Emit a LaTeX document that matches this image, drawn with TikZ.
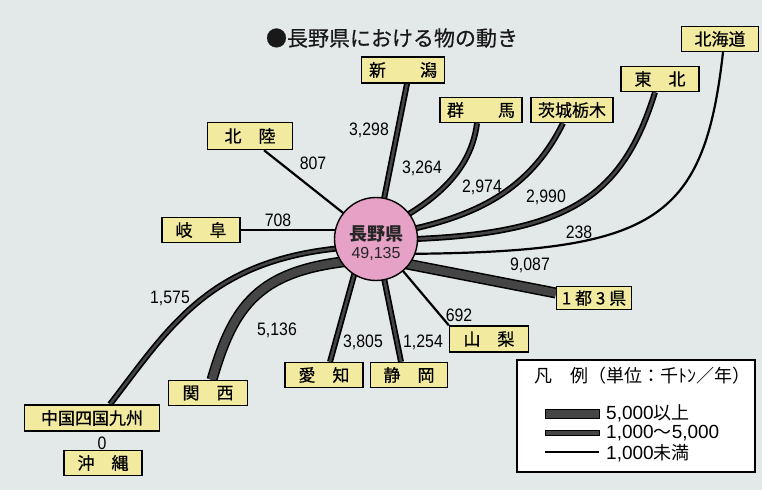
\documentclass[tikz,border=0pt]{standalone}
\usepackage{fontspec}
\usetikzlibrary{calc}
\newfontfamily\jp{Noto Sans CJK JP}
\newfontfamily\jpm[FakeBold=0.6]{Noto Sans CJK JP}
\newfontfamily\numf[FakeStretch=0.88]{Liberation Sans}
\newfontfamily\numw{Liberation Sans}
\definecolor{bgc}{HTML}{E3E8E9}
\definecolor{boxy}{HTML}{F2EA9F}
\definecolor{pinkc}{HTML}{E6A1C6}
\definecolor{bandc}{HTML}{454545}
\pgfdeclarelayer{back}
\pgfdeclarelayer{lines}
\pgfsetlayers{back,lines,main}
\begin{document}
\begin{tikzpicture}[x=1pt,y=-1pt,
  region/.style={draw=black, line width=1.4pt, fill=boxy, inner sep=0pt,
    minimum width=78pt, minimum height=25pt, font=\jpm\fontsize{17}{17}\selectfont},
  val/.style={inner sep=0pt, font=\numf\fontsize{18}{18}\selectfont},
  flowthin/.style={line width=2.2pt, draw=black},
  flowmed/.style={line width=6pt, draw=black, postaction={draw=bandc, line width=2.6pt}},
  flowthick/.style={line width=11pt, draw=black, postaction={draw=bandc, line width=8pt}},
  legtext/.style={anchor=west, inner sep=0pt, font=\jp\fontsize{18}{18}\selectfont}
]
\begin{pgfonlayer}{back}
  \fill[bgc] (0,0) rectangle (762,490);
\end{pgfonlayer}
\useasboundingbox (0,0) rectangle (762,490);

% title
\node[inner sep=0pt, font=\jpm\fontsize{21}{21}\selectfont, text=black!90] (title) at (392,38) {●長野県における物の動き};

% centre
\node[circle, draw=black, line width=1.4pt, fill=pinkc, minimum size=83pt, inner sep=0pt] (nagano) at (376,239) {};
\node[inner sep=0pt, font=\jp\bfseries\fontsize{18}{18}\selectfont, text=black!85] (nname) at (376,234) {長野県};
\node[inner sep=0pt, font=\numw\fontsize{16}{16}\selectfont, text=black!85] (nval) at (376,254) {49,135};

% regions
\node[region, minimum width=83pt, minimum height=26pt] (niigata) at (403,70) {新　　潟};
\node[region, minimum width=77pt] (hokkaido) at (720,39) {北海道};
\node[region] (tohoku) at (660,79) {東　北};
\node[region, minimum width=82pt] (gunma) at (481,110) {群　　馬};
\node[region, minimum width=82pt] (ibaraki) at (572,110) {茨城栃木};
\node[region, minimum width=85pt, minimum height=27pt] (hokuriku) at (250,136) {北　陸};
\node[region] (gifu) at (201,230) {岐　阜};
\node[region, minimum width=75pt, minimum height=23pt] (ittosan) at (594,298) {1 都 3 県};
\node[region, minimum width=79pt, minimum height=26pt] (yamanashi) at (489,339) {山　梨};
\node[region] (aichi) at (324,375) {愛　知};
\node[region, minimum width=77pt] (shizuoka) at (409,375) {静　岡};
\node[region, minimum width=79pt] (kansai) at (208,393) {関　西};
\node[region, minimum width=135pt, minimum height=26pt] (chugoku) at (92,418) {中国四国九州};
\node[region] (okinawa) at (103,463) {沖　縄};

% connectors
\begin{pgfonlayer}{lines}
  \draw[flowthin] ([xshift=14pt]hokuriku.south) -- (nagano.center);
  \draw[flowthin] (gifu.east) -- (gifu.east -| nagano.center);
  \draw[flowmed] ([xshift=4pt]niigata.south) -- (nagano.center);
  \draw[flowmed] ([xshift=-4pt]gunma.south) .. controls (470,180) and (420,210) .. ($(nagano.center)+(0,-7)$);
  \draw[flowmed] ([xshift=-9pt]ibaraki.south) .. controls (525,200) and (460,222) .. ($(nagano.center)+(0,-3)$);
  \draw[flowmed] ([xshift=-5pt]tohoku.south) .. controls (620,205) and (560,238) .. ($(nagano.center)+(0,1)$);
  \draw[flowthin] ([xshift=3pt]hokkaido.south) .. controls (703,230) and (650,254) .. ($(nagano.center)+(0,15)$);
  \draw[flowthick] ([yshift=5pt]ittosan.west) -- ($(nagano.center)+(0,19)$);
  \draw[flowthin] (yamanashi.north west) -- (nagano.center);
  \draw[flowmed] ([xshift=-8pt]shizuoka.north) -- (nagano.center);
  \draw[flowmed] ([xshift=6pt]aichi.north) -- ($(nagano.center)+(-12,0)$);
  \draw[flowthick] ([xshift=4pt]kansai.north) .. controls (235,300) and (262,265) .. ($(nagano.center)+(0,20)$);
  \draw[flowmed] ([xshift=18pt]chugoku.north) .. controls (175,320) and (215,250) .. ($(nagano.center)+(0,7)$);
\end{pgfonlayer}

% values
\node[val] (v1) at (369,130) {3,298};
\node[val] (v2) at (313,163) {807};
\node[val] (v3) at (278,220) {708};
\node[val] (v4) at (422,168) {3,264};
\node[val] (v5) at (482,187) {2,974};
\node[val] (v6) at (546,197) {2,990};
\node[val] (v7) at (579,232) {238};
\node[val] (v8) at (530,265) {9,087};
\node[val] (v9) at (459,315) {692};
\node[val] (v10) at (363,342) {3,805};
\node[val] (v11) at (423,342) {1,254};
\node[val] (v12) at (277,330) {5,136};
\node[val] (v13) at (170,298) {1,575};
\node[val] (v14) at (102,443) {0};

% legend
\node[draw=black, line width=1.4pt, fill=white, minimum width=238pt, minimum height=112pt, inner sep=0pt] (legend) at (636,416) {};
\node[inner sep=0pt, font=\jp\fontsize{18}{18}\selectfont] (legtitle) at (642,376) {凡　例（単位：千ﾄﾝ／年）};
\filldraw[fill=bandc, draw=black, line width=0.8pt] (545,409.5) rectangle (599,418.5);
\filldraw[fill=bandc, draw=black, line width=0.8pt] (545,430.5) rectangle (599,435.5);
\draw[line width=2pt] (545,452) -- (599,452);
\node[legtext] (l1) at (606,413) {{\numw\fontsize{19}{19}\selectfont 5,000}以上};
\node[legtext] (l2) at (606,433) {{\numw\fontsize{19}{19}\selectfont 1,000}〜{\numw\fontsize{19}{19}\selectfont 5,000}};
\node[legtext] (l3) at (606,453) {{\numw\fontsize{19}{19}\selectfont 1,000}未満};
\end{tikzpicture}
\end{document}
